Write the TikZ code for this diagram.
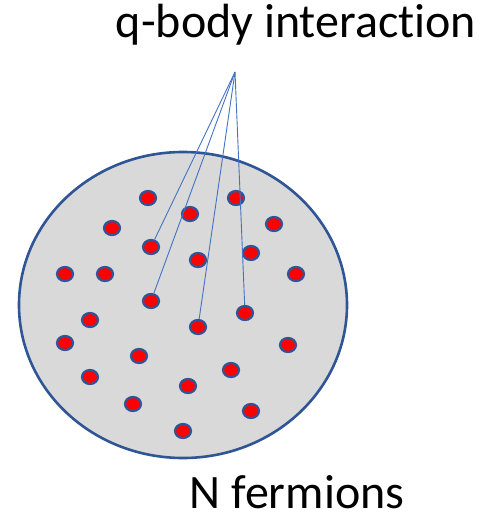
\documentclass[tikz,border=0pt]{standalone}
\usepackage{fontspec}
\setmainfont{Carlito}[Ligatures=NoCommon]
\usetikzlibrary{shapes.geometric}
\definecolor{rim}{HTML}{2F5597}
\definecolor{ln}{HTML}{4472C4}
\definecolor{fillg}{HTML}{D9D9D9}
\begin{document}
\begin{tikzpicture}[x=1pt,y=-1pt,
  fermion/.style={ellipse,draw=rim,line width=2.2pt,fill=red,minimum width=16pt,minimum height=14pt,inner sep=0pt},
  link/.style={draw=ln,line width=0.9pt},
  lbl/.style={font=\fontsize{48}{56}\selectfont,inner sep=0pt}]
\useasboundingbox (0,0) rectangle (494,514);
\path[fill=fillg,draw=rim,line width=2.6pt] (183,305) ellipse [x radius=164, y radius=153];
\node[lbl] (top) at (296,25) {q-body interaction};
\node[lbl] (bot) at (297,492) {N fermions};
\coordinate (apex) at (235,72);
\foreach \n/\x/\y in {a/148/198,b/236/198,c/190/214,d/112/228,e/274/224,f/151/247,g/251/253,h/198/260,i/65/274,j/105/274,k/296/274,l/151/301,m/245/313,n/90/320,o/198/327,p/65/343,q/288/345,r/139/356,s/90/377,t/231/370,u/188/386,v/133/404,w/251/411,x/183/431}
  \node[fermion] (\n) at (\x,\y) {};
\foreach \t in {f,l,o,m}
  \draw[link] (apex) -- (\t);
\end{tikzpicture}
\end{document}
